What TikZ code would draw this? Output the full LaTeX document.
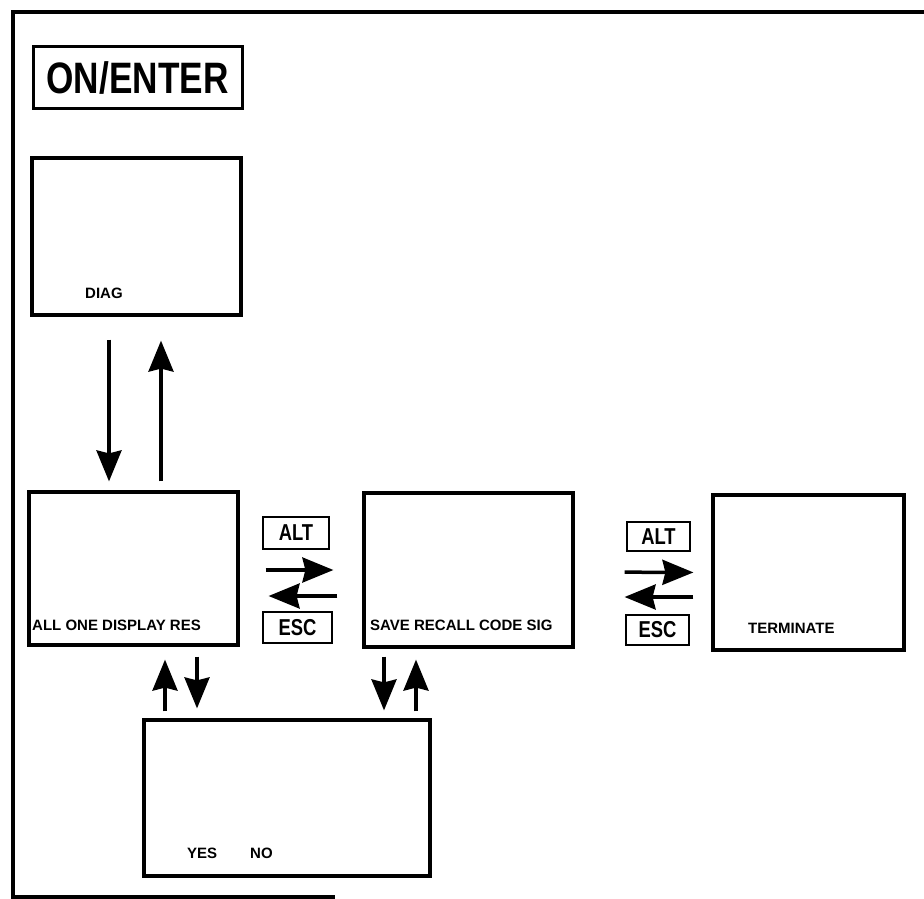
\documentclass[tikz,border=0pt]{standalone}
\usepackage{fontspec}
\setmainfont{Liberation Sans}
\newfontfamily\keyfont{Liberation Sans}[FakeStretch=0.8]
\usetikzlibrary{arrows.meta}

\begin{document}
\begin{tikzpicture}[x=1pt, y=-1pt,
  screen/.style={draw, line width=3.2pt, inner sep=0pt},
  keybox/.style={draw, line width=2.6pt, inner sep=0pt, font=\keyfont\bfseries\fontsize{23}{23}\selectfont},
  lbl/.style={inner sep=0pt, anchor=base west, font=\bfseries\fontsize{15}{18}\selectfont},
  arr/.style={line width=3.5pt, -{Stealth[length=31pt, width=25pt, inset=3pt]}}]
  \useasboundingbox (0,0) rectangle (924,899);
  % page frame, open on the right
  \draw[line width=3.6pt] (924,12) -| (13,897) -- (335,897);

  \node[keybox, line width=3pt, minimum width=209, minimum height=61,
        font=\keyfont\bfseries\fontsize{44}{44}\selectfont] (onkey) at (137.5,77.5) {ON/ENTER};

  % display screens
  \node[screen, minimum width=209, minimum height=157] (diag)   at (136.5,236.5) {};
  \node[screen, minimum width=209, minimum height=153] (allone) at (133.5,568.5) {};
  \node[screen, minimum width=209, minimum height=154] (save)   at (468.5,570)   {};
  \node[screen, minimum width=191, minimum height=155] (term)   at (808.5,572.5) {};
  \node[screen, minimum width=286, minimum height=156] (yesno)  at (287,798)     {};

  \node[lbl] (diagtxt)  at (85,298)  {DIAG};
  \node[lbl] (alltxt)   at (32,630)  {ALL ONE DISPLAY RES};
  \node[lbl] (savetxt)  at (370,630) {SAVE RECALL CODE SIG};
  \node[lbl] (termtxt)  at (748,633) {TERMINATE};
  \node[lbl] (yestxt)   at (187,858) {YES};
  \node[lbl] (notxt)    at (250,858) {NO};

  % key captions
  \node[keybox, minimum width=66, minimum height=32] (alt1) at (296,533)     {ALT};
  \node[keybox, minimum width=69, minimum height=31] (esc1) at (297.5,627.5) {ESC};
  \node[keybox, minimum width=63, minimum height=29] (alt2) at (658.5,536.5) {ALT};
  \node[keybox, minimum width=63, minimum height=30] (esc2) at (657.5,630)   {ESC};

  % DIAG <-> ALL ONE
  \draw[arr, shorten <=23pt, shorten >=9pt]  ([xshift=-27.5]diag.south) -- ([xshift=-24.5]allone.north);
  \draw[arr, shorten <=9pt,  shorten >=24pt] ([xshift=27.5]allone.north) -- ([xshift=24.5]diag.south);

  % ALT / ESC between the screens
  \draw[arr, shorten <=26pt, shorten >=29pt] ([yshift=-1.5]allone.east) -- (save.west);
  \draw[arr, shorten <=25pt, shorten >=29pt] ([yshift=-26]save.west) -- ([yshift=-27.5]allone.east);
  \draw[arr, shorten <=50pt, shorten >=18pt] ([yshift=-2]save.east) -- (term.west);
  \draw[arr, shorten <=18pt, shorten >=50pt] ([yshift=-24.5]term.west) -- ([yshift=-27]save.east);

  % to and from YES / NO
  \draw[arr, shorten <=7pt,  shorten >=13pt] ([xshift=-122]yesno.north) -- ([xshift=31.5]allone.south);
  \draw[arr, shorten <=10pt, shorten >=10pt] ([xshift=63.5]allone.south) -- ([xshift=-90]yesno.north);
  \draw[arr, shorten <=8pt,  shorten >=8pt]  ([xshift=-84.5]save.south) -- ([xshift=97]yesno.north);
  \draw[arr, shorten <=7pt,  shorten >=11pt] ([xshift=129]yesno.north) -- ([xshift=-52.5]save.south);
\end{tikzpicture}
\end{document}
